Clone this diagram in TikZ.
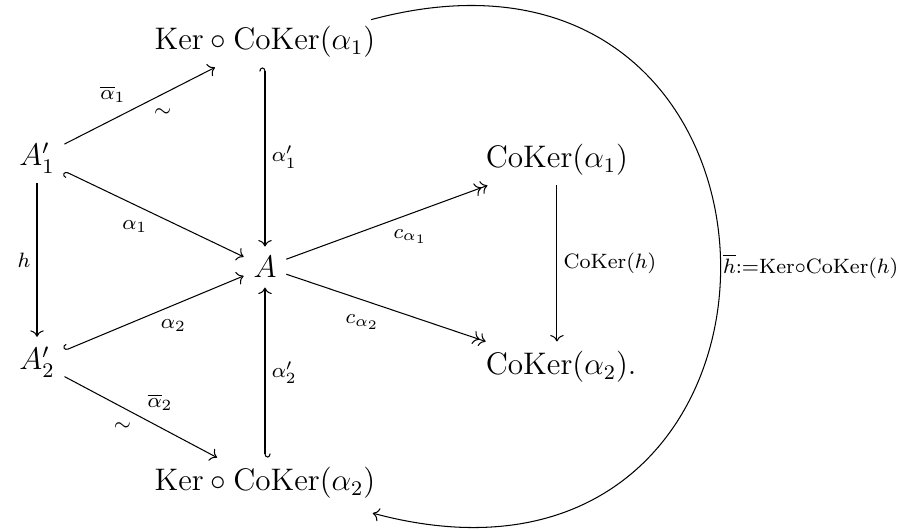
\documentclass[tikz,border=0pt,12pt]{standalone}
\usepackage{amsmath}
\usepackage{amssymb}
\usetikzlibrary{arrows.meta, positioning, calc, cd}

\begin{document}
\begin{tikzpicture}[
    x=1.2cm, y=1.2cm,
    >={tikzcd to},
    obj/.style={inner sep=3.6pt},
    lbl/.style={font=\scriptsize, inner sep=2.4pt},
]
    \useasboundingbox (0,0) rectangle (10.209,5.961);
    \node[obj] (a1) at (0.417,4.180) {$A'_1$};
    \node[obj] (a2) at (0.417,1.882) {$A'_2$};
    \node[obj] (k1) at (2.986,5.488) {$\mathrm{Ker}\circ\mathrm{CoKer}(\alpha_1)$};
    \node[obj] (k2) at (2.986,0.518) {$\mathrm{Ker}\circ\mathrm{CoKer}(\alpha_2)$};
    \node[obj] (a) at (2.986,2.952) {$A$};
    \node[obj] (c1) at (6.276,4.158) {$\mathrm{CoKer}(\alpha_1)$};
    \node[obj, anchor=west] (c2) at ($(c1.west)+(0,-2.332)$) {$\mathrm{CoKer}(\alpha_2).$};
    \draw[->] (a1) -- node[lbl, auto, pos=0.45] {$\overline{\alpha}_1$} node[lbl, auto, swap, pos=0.55] {$\sim$} (k1);
    \draw[{tikzcd left hook}->] (a1) -- node[lbl, auto, swap] {$\alpha_1$} (a);
    \draw[->] (a1) -- node[lbl, auto, swap] {$h$} (a2);
    \draw[{tikzcd right hook}->] (a2) -- node[lbl, below right, pos=0.5] {$\alpha_2$} (a);
    \draw[->] (a2) -- node[lbl, auto] {$\overline{\alpha}_2$} node[lbl, auto, swap, pos=0.48] {$\sim$} (k2);
    \draw[{tikzcd left hook}->] (k1) -- node[lbl, auto] {$\alpha'_1$} (a);
    \draw[{tikzcd left hook}->] (k2) -- node[lbl, auto, swap] {$\alpha'_2$} (a);
    \draw[->>] (a) -- node[lbl, auto, swap] {$c_{\alpha_1}$} (c1);
    \draw[->>] (a) -- node[lbl, auto, swap] {$c_{\alpha_2}$} (c2);
    \draw[->] (c1) -- node[lbl, auto] {$\mathrm{CoKer}(h)$} (c1 |- c2.north);
    % the long bend on the right
    \draw[->] ($(k1.north east)+(-5.4pt,-1.2pt)$) to[out=15, in=-15, looseness=2.49]
        node[lbl, auto, inner sep=0.8pt] {$\overline{h}{:=}\mathrm{Ker}{\circ}\mathrm{CoKer}(h)$} ($(k2.south east)+(-4.8pt,-1.8pt)$);
\end{tikzpicture}
\end{document}
